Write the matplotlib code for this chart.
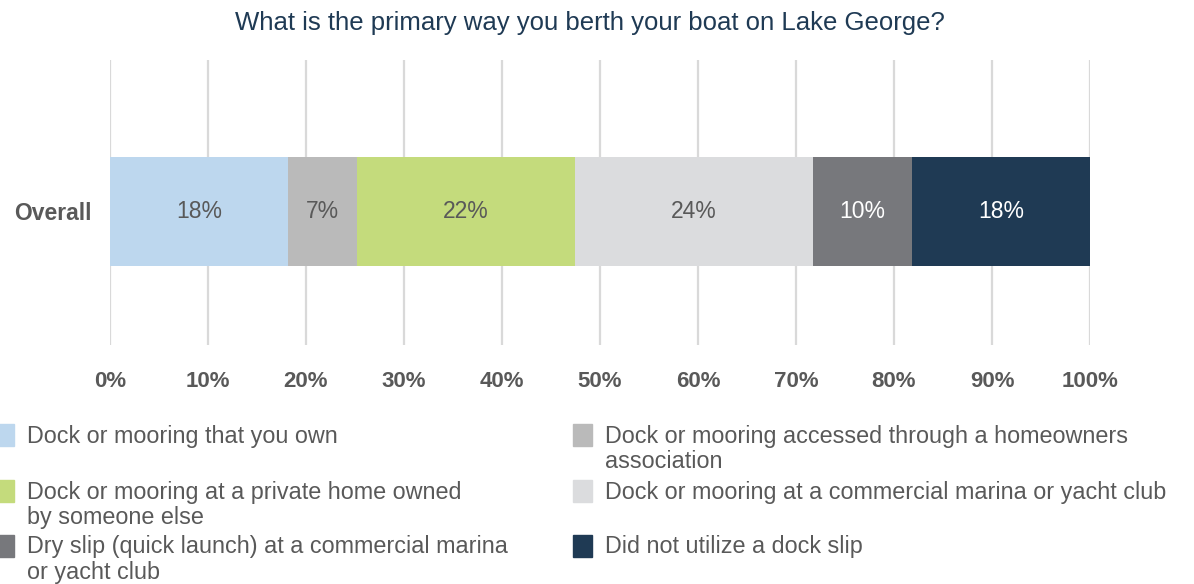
import matplotlib.pyplot as plt
from matplotlib.patches import Rectangle

plt.rcParams['font.family'] = ['Liberation Sans', 'DejaVu Sans']

title = "What is the primary way you berth your boat on Lake George?"
category = "Overall"
labels = ["Dock or mooring that you own",
          "Dock or mooring accessed through a homeowners\nassociation",
          "Dock or mooring at a private home owned\nby someone else",
          "Dock or mooring at a commercial marina or yacht club",
          "Dry slip (quick launch) at a commercial marina\nor yacht club",
          "Did not utilize a dock slip"]
# bar order left to right
bar_order = [0, 1, 2, 3, 4, 5]
values = [18.2, 7.0, 22.2, 24.3, 10.1, 18.2]
value_labels = ["18%", "7%", "22%", "24%", "10%", "18%"]
colors = ['#BDD7EE', '#BABABA', '#C4DB7C', '#DBDCDE', '#77787C', '#1F3A54']
text_colors = ['#595959', '#595959', '#595959', '#595959', 'white', 'white']
xticks = [0, 10, 20, 30, 40, 50, 60, 70, 80, 90, 100]

# legend layout: (col, row) of each item
legend_pos = [(0, 0), (1, 0), (0, 1), (1, 1), (0, 2), (1, 2)]

fig = plt.figure(figsize=(11.94, 5.84), dpi=100)
ax = fig.add_axes([110 / 1194, 1 - 345 / 584, 980 / 1194, 285 / 584])

left = 0
for i in bar_order:
    ax.barh(0, values[i], left=left, height=1.0, color=colors[i], zorder=3)
    ax.text(left + values[i] / 2, 0, value_labels[i], ha='center', va='center',
            fontsize=16.5, color=text_colors[i], zorder=4)
    left += values[i]

ax.set_xlim(0, 100)
ax.set_ylim(-1.225, 1.39)
ax.set_xticks(xticks)
ax.set_xticklabels([f"{t}%" for t in xticks], fontsize=16, color='#595959',
                   fontweight='bold')
ax.set_yticks([0])
ax.set_yticklabels([category], fontsize=16.5, color='#595959', fontweight='bold')
ax.tick_params(axis='x', length=0, pad=19)
ax.tick_params(axis='y', length=0, pad=13)
ax.grid(axis='x', color='#D9D9D9', linewidth=1.6, zorder=0)
for s in ax.spines.values():
    s.set_visible(False)

fig.text(0.494, 1 - 23 / 584, title, ha='center', va='center',
         fontsize=18.5, color='#1F3A54')

# manual legend in two columns
col_x = [-5, 573]
row_y = [434.5, 490.5, 545.5]
for i, lab in enumerate(labels):
    c, r = legend_pos[i]
    x0 = col_x[c]
    yc = row_y[r]
    fig.patches.append(Rectangle((x0 / 1194, 1 - (yc + 11) / 584), 19 / 1194, 22 / 584,
                                 transform=fig.transFigure, color=colors[i]))
    fig.text((x0 + 32) / 1194, 1 - (yc - 10) / 584, lab, ha='left', va='top',
             fontsize=16.8, color='#595959', linespacing=1.12)

fig.savefig('out.png', dpi=100)
